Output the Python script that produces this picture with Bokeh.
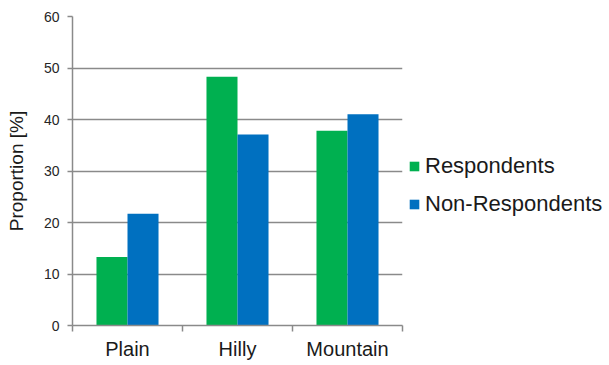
from bokeh.plotting import figure
from bokeh.models import ColumnDataSource, Range1d, FixedTicker, Legend, LegendItem
from bokeh.embed import file_html
from bokeh.resources import INLINE

categories = ["Plain", "Hilly", "Mountain"]
respondents = [13.3, 48.3, 37.8]
non_respondents = [21.7, 37.1, 41.0]
y_ticks = [0, 10, 20, 30, 40, 50, 60]

bar_w = 0.282
centers = [i + 0.5 for i in range(len(categories))]
src = ColumnDataSource(dict(
    xr=[c - bar_w / 2 for c in centers],
    xn=[c + bar_w / 2 for c in centers],
    r=respondents, n=non_respondents))

p = figure(frame_width=330, frame_height=309, output_backend="svg", toolbar_location=None,
           x_range=Range1d(0, len(categories)), y_range=Range1d(0, 60),
           min_border_left=72, min_border_top=16, min_border_bottom=31, min_border_right=191)
p.outline_line_color = None
p.background_fill_color = "white"

gr = p.vbar(x="xr", top="r", width=bar_w, source=src, fill_color="#00B050", line_color=None)
gn = p.vbar(x="xn", top="n", width=bar_w, source=src, fill_color="#0070C0", line_color=None)

GRAY = "#8a8a8a"
p.xgrid.visible = False
p.ygrid.grid_line_color = GRAY
p.ygrid.grid_line_width = 1.5
p.ygrid.ticker = FixedTicker(ticks=y_ticks)

xa = p.xaxis[0]
xa.ticker = FixedTicker(ticks=centers, minor_ticks=list(range(len(categories) + 1)))
xa.major_label_overrides = {c: lab for c, lab in zip(centers, categories)}
xa.major_tick_out = 0
xa.major_tick_in = 0
xa.minor_tick_out = 6
xa.minor_tick_in = 0
xa.minor_tick_line_color = GRAY
xa.minor_tick_line_width = 1.5
xa.axis_line_color = GRAY
xa.axis_line_width = 1.5
xa.major_label_text_font = "Liberation Sans"
xa.major_label_text_font_size = "20px"
xa.major_label_text_color = "#1a1a1a"
xa.major_label_standoff = 6

ya = p.yaxis[0]
ya.ticker = FixedTicker(ticks=y_ticks)
ya.minor_tick_line_color = None
ya.major_tick_out = 5
ya.major_tick_in = 0
ya.major_tick_line_color = GRAY
ya.major_tick_line_width = 1.5
ya.axis_line_color = GRAY
ya.axis_line_width = 1.5
ya.major_label_text_font = "Liberation Sans"
ya.major_label_text_font_size = "14px"
ya.major_label_text_color = "#262626"
ya.major_label_standoff = 8
ya.axis_label = "Proportion [%]"
ya.axis_label_text_font = "Liberation Sans"
ya.axis_label_text_font_size = "19px"
ya.axis_label_text_font_style = "normal"
ya.axis_label_text_color = "#1a1a1a"
ya.axis_label_standoff = 14

legend = Legend(items=[LegendItem(label="Respondents", renderers=[gr]),
                       LegendItem(label="Non-Respondents", renderers=[gn])],
                location=(6, 108))
legend.glyph_width = 12
legend.glyph_height = 12
legend.label_text_font = "Liberation Sans"
legend.label_text_font_size = "22px"
legend.label_text_color = "#1a1a1a"
legend.label_height = 24
legend.spacing = 12
legend.padding = 0
legend.margin = 0
legend.label_standoff = 5
legend.border_line_color = None
legend.background_fill_alpha = 0
p.add_layout(legend, "right")

open("out.html", "w").write(file_html(p, INLINE))
